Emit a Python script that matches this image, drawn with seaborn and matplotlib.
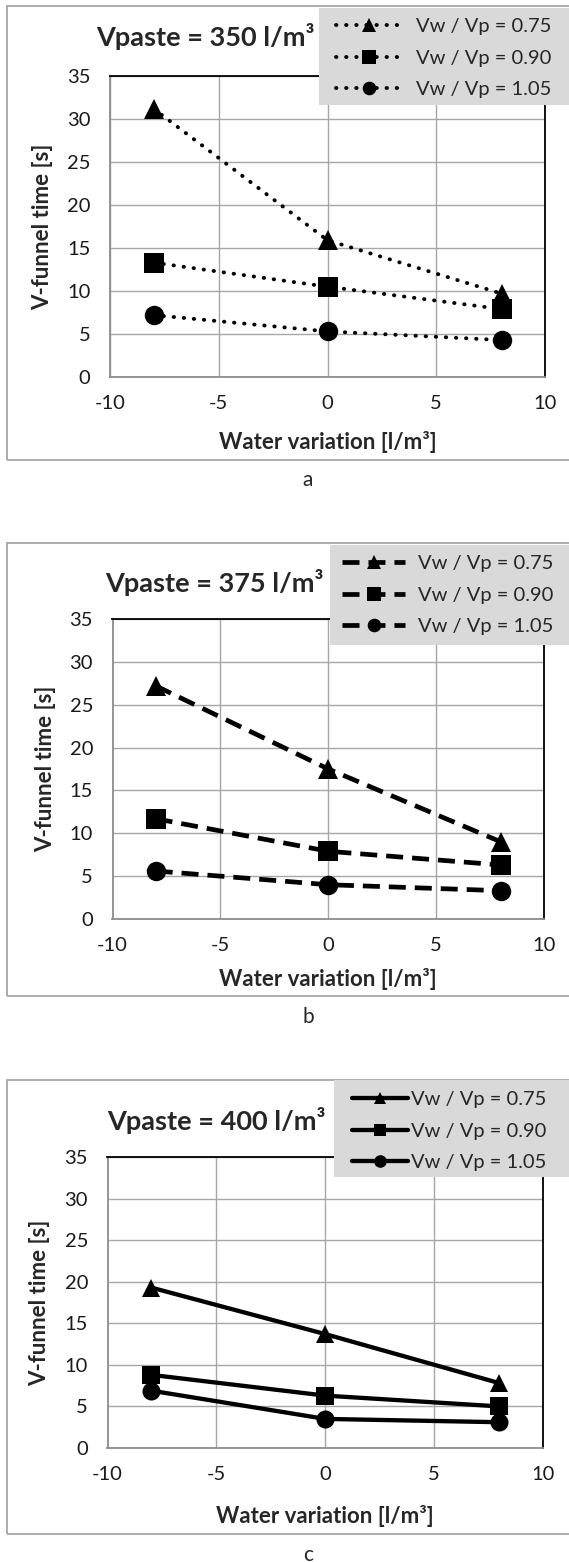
import matplotlib
matplotlib.use("Agg")
import matplotlib.pyplot as plt
import seaborn as sns
import pandas as pd
from matplotlib.patches import Rectangle

# data (V-funnel time in s)
water = [-8, 0, 8]
ratios = ["Vw / Vp = 0.75", "Vw / Vp = 0.90", "Vw / Vp = 1.05"]
markers = ["^", "s", "o"]

v350_075 = [31.2, 15.9, 9.7]
v350_090 = [13.3, 10.5, 7.9]
v350_105 = [7.2, 5.3, 4.3]

v375_075 = [27.2, 17.5, 9.0]
v375_090 = [11.7, 7.9, 6.3]
v375_105 = [5.6, 4.0, 3.3]

v400_075 = [19.3, 13.7, 7.8]
v400_090 = [8.8, 6.3, 5.0]
v400_105 = [6.9, 3.5, 3.1]

panels = [
    ("Vpaste = 350 l/m³", "a", [v350_075, v350_090, v350_105]),
    ("Vpaste = 375 l/m³", "b", [v375_075, v375_090, v375_105]),
    ("Vpaste = 400 l/m³", "c", [v400_075, v400_090, v400_105]),
]

sns.set_style("white")
plt.rcParams["font.family"] = ["Lato", "DejaVu Sans"]
plt.rcParams["axes.unicode_minus"] = False

W, H = 569, 1562
fig = plt.figure(figsize=(W / 100, H / 100), dpi=100)

def px_axes(left, right, top, bottom):
    return fig.add_axes([left / W, 1 - bottom / H, (right - left) / W, (bottom - top) / H])

def px_rect(x0, x1, y0, y1, **kw):
    return Rectangle((x0 / W, 1 - y1 / H), (x1 - x0) / W, (y1 - y0) / H,
                     transform=fig.transFigure, **kw)

# layout in pixels: axes box, outer frame, title, caption, legend box / content
layout = [
    dict(ax=(110, 545, 76, 377), box=(6.5, 6, 460), title=(205, 37), cap=480,
         legbg=(319, 8, 105), leg=(336, 25), hl=3.3, htp=0.65,
         ls=(0, (0.1, 2.5)), lw=2.8, ms=14, cap_style="round", xl=-0.215),
    dict(ax=(112.5, 544, 619, 919), box=(6.5, 543, 996), title=(214, 582), cap=1017,
         legbg=(330, 545, 645), leg=(342, 562), hl=3.15, htp=0.6,
         ls=(0, (3.6, 1.9)), lw=3.4, ms=14, cap_style="butt", xl=-0.2),
    dict(ax=(107.5, 543, 1157, 1448), box=(6.5, 1080, 1534), title=(216, 1120), cap=1555,
         legbg=(334, 1080, 1177), leg=(352, 1098), hl=2.8, htp=0.15,
         ls="-", lw=3.1, ms=13, cap_style="butt", xl=-0.235),
]

for (title, letter, series), L in zip(panels, layout):
    # outer grey frame of the chart area
    bx, by0, by1 = L["box"]
    fig.patches.append(px_rect(bx, W + 10, by0, by1, fill=False,
                               edgecolor="#A6A6A6", linewidth=1.3, zorder=-1))

    ax = px_axes(*L["ax"])
    for name, vals, mk in zip(ratios, series, markers):
        df = pd.DataFrame({"x": water, "y": vals})
        sns.lineplot(data=df, x="x", y="y", ax=ax, color="black", marker=mk,
                     markersize=L["ms"], markeredgewidth=0, linestyle=L["ls"],
                     linewidth=L["lw"], label=name, zorder=3)
    for ln in ax.get_lines():
        ln.set_dash_capstyle(L["cap_style"])

    ax.set_xlim(-10, 10)
    ax.set_ylim(0, 35)
    ax.set_xticks([-10, -5, 0, 5, 10])
    ax.set_yticks(range(0, 36, 5))
    ax.grid(True, color="#A6A6A6", linewidth=1.0)
    ax.tick_params(length=0, labelsize=14.5, colors="#1a1a1a")
    ax.tick_params(axis="x", pad=13)
    ax.tick_params(axis="y", pad=14)
    for s in ["left", "bottom"]:
        ax.spines[s].set_color("#8C8C8C")
        ax.spines[s].set_linewidth(1.3)
    for s in ["top", "right"]:
        ax.spines[s].set_color("black")
        ax.spines[s].set_linewidth(1.3)
        ax.spines[s].set_visible(True)

    ax.set_xlabel("Water variation [l/m³]", fontsize=16, fontweight="bold")
    ax.set_ylabel("V-funnel time [s]", fontsize=16, fontweight="bold")
    ax.xaxis.set_label_coords(0.5, L["xl"])
    ax.xaxis.label.set_va("center")
    ax.yaxis.set_label_coords(-0.155, 0.5)
    ax.yaxis.label.set_va("center")

    # grey legend panel drawn over the plot frame, legend entries on top of it
    gx, gy0, gy1 = L["legbg"]
    fig.patches.append(px_rect(gx, W + 10, gy0, gy1, facecolor="#D9D9D9",
                               edgecolor="none", zorder=4))
    handles, labels = ax.get_legend_handles_labels()
    ax.get_legend().remove()
    lx, ly = L["leg"]
    leg = fig.legend(handles, labels, loc="upper left",
                     bbox_to_anchor=(lx / W, 1 - (ly - 7) / H),
                     bbox_transform=fig.transFigure, fontsize=14.5, frameon=False,
                     borderaxespad=0, borderpad=0, handlelength=L["hl"],
                     handletextpad=L["htp"], labelspacing=0.72, markerscale=0.7)
    leg.set_zorder(5)

    tx, ty = L["title"]
    fig.text(tx / W, 1 - ty / H, title, ha="center", va="center", fontsize=19.5, fontweight="bold")
    fig.text(308 / W, 1 - L["cap"] / H, letter, ha="center", va="center", fontsize=15)

fig.savefig("out.png", dpi=100)
